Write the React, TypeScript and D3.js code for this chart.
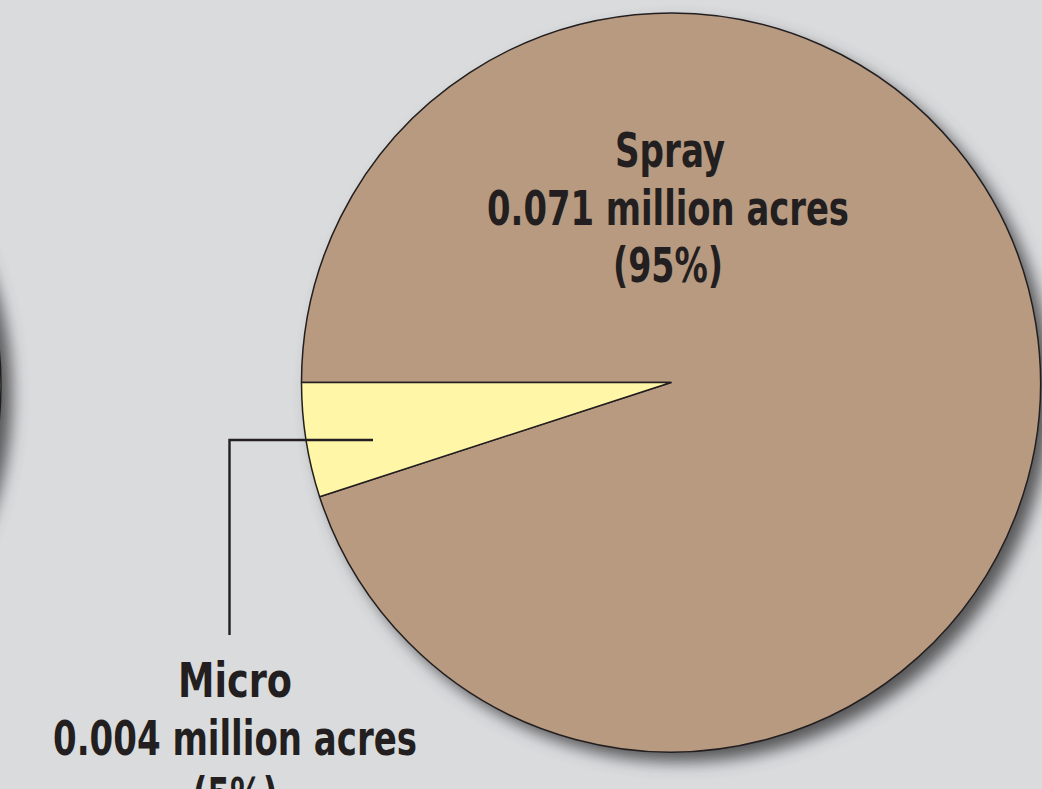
import React from "react";
import * as d3 from "d3";

const categories = ["Spray", "Micro"];
const acres = [0.071, 0.004];
const percents = [95, 5];
const colors = ["#b89a80", "#fff6a8"];

const W = 1042;
const H = 789;

export default function App() {
  const cx = 671;
  const cy = 382.5;
  const r = 369.5;
  const data = categories.map((c, i) => ({ c, v: percents[i], a: acres[i], p: percents[i], col: colors[i] }));
  const pie = d3
    .pie<any>()
    .value((d) => d.v)
    .sort(null)
    .startAngle(-Math.PI / 2)
    .endAngle((3 * Math.PI) / 2);
  const arcs = pie(data);
  const arc = d3.arc<any>().innerRadius(0).outerRadius(r);
  const font = "'Liberation Sans Narrow', 'DejaVu Sans Condensed', 'Liberation Sans', sans-serif";
  const txt = {
    fontFamily: font,
    fontWeight: 700,
    fontSize: 48,
    fill: "#231f20",
    textAnchor: "middle" as const,
  };
  const fmt = (d: any) => `${d.a.toFixed(3)} million acres`;
  const leader = d3.line()([
    [373, 440],
    [229.5, 440],
    [229.5, 635],
  ]);
  return (
    <svg width={W} height={H} style={{ position: "absolute", left: 0, top: 0 }}>
      <defs>
        <filter id="shadow" x="-20%" y="-20%" width="140%" height="140%">
          <feDropShadow dx="10" dy="10" stdDeviation="8" floodColor="#4a4a4c" floodOpacity="0.9" />
        </filter>
      </defs>
      <rect x={0} y={0} width={W} height={H} fill="#dadbdd" />
      {/* neighbouring pie, mostly off-canvas */}
      <circle cx={1 - r} cy={385} r={r} fill="#9a9a9a" stroke="#231f20" strokeWidth={1.5} filter="url(#shadow)" />
      <circle cx={cx} cy={cy} r={r} fill={colors[0]} filter="url(#shadow)" />
      <g transform={`translate(${cx},${cy})`}>
        {arcs.map((a, i) => (
          <path key={i} d={arc(a) as string} fill={a.data.col} stroke="#231f20" strokeWidth={1.5} strokeLinejoin="round" />
        ))}
      </g>
      <path d={leader as string} fill="none" stroke="#231f20" strokeWidth={2.4} />
      <g style={txt as any}>
        <text x={670} y={167} textLength={110} lengthAdjust="spacingAndGlyphs">{data[0].c}</text>
        <text x={668} y={225} textLength={362} lengthAdjust="spacingAndGlyphs">{fmt(data[0])}</text>
        <text x={668} y={282} textLength={110} lengthAdjust="spacingAndGlyphs">{`(${data[0].p}%)`}</text>
        <text x={235} y={697} textLength={114} lengthAdjust="spacingAndGlyphs">{data[1].c}</text>
        <text x={235} y={755} textLength={364} lengthAdjust="spacingAndGlyphs">{fmt(data[1])}</text>
        <text x={235} y={812} textLength={85} lengthAdjust="spacingAndGlyphs">{`(${data[1].p}%)`}</text>
      </g>
    </svg>
  );
}
